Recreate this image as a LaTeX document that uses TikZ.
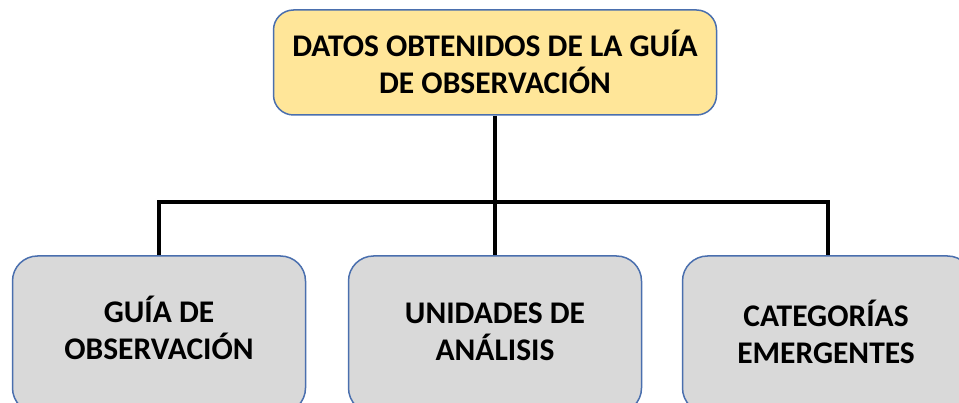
\documentclass[tikz,border=0pt]{standalone}
\usepackage{fontspec}
\setmainfont{Carlito}
\definecolor{boxblue}{HTML}{4A6FAE}
\definecolor{topyellow}{HTML}{FFE699}
\definecolor{boxgray}{HTML}{D9D9D9}
\tikzset{
  topbox/.style={draw=boxblue, line width=1.5pt, fill=topyellow, rounded corners=20pt, minimum width=443pt, minimum height=105pt, inner sep=0pt},
  bottombox/.style={draw=boxblue, line width=1.5pt, fill=boxgray, rounded corners=25pt, minimum width=293pt, minimum height=157pt, inner sep=0pt},
  boxtext/.style={font=\bfseries\fontsize{31.5}{37}\selectfont, align=center, text=black, inner sep=0pt},
  link/.style={line width=4pt, line join=miter, black}
}
\begin{document}
\begin{tikzpicture}[x=1pt,y=-1pt]
\useasboundingbox (0,0) rectangle (959,403);
\clip (0,0) rectangle (959,403);
\node[topbox] (top) at (495,62.5) {};
\node[boxtext] (toptext) at (495,62) {DATOS OBTENIDOS DE LA GUÍA\\DE OBSERVACIÓN};
\node[bottombox] (lft) at (159,334.5) {};
\node[bottombox] (mid) at (495,334.5) {};
\node[bottombox, minimum width=290pt] (rgt) at (827.5,334.5) {};
\node[boxtext] (lfttext) at (159,328) {GUÍA DE\\OBSERVACIÓN};
\node[boxtext] (midtext) at (495,332) {UNIDADES DE\\ANÁLISIS};
\node[boxtext] (rgttext) at (826,332) {CATEGORÍAS\\EMERGENTES};
\coordinate (bar) at (495,202);
\draw[link] (top.south) -- (mid.north);
\draw[link] (lft.north) -- (lft.north |- bar) -- (rgt.north |- bar) -- (rgt.north);
\end{tikzpicture}
\end{document}
